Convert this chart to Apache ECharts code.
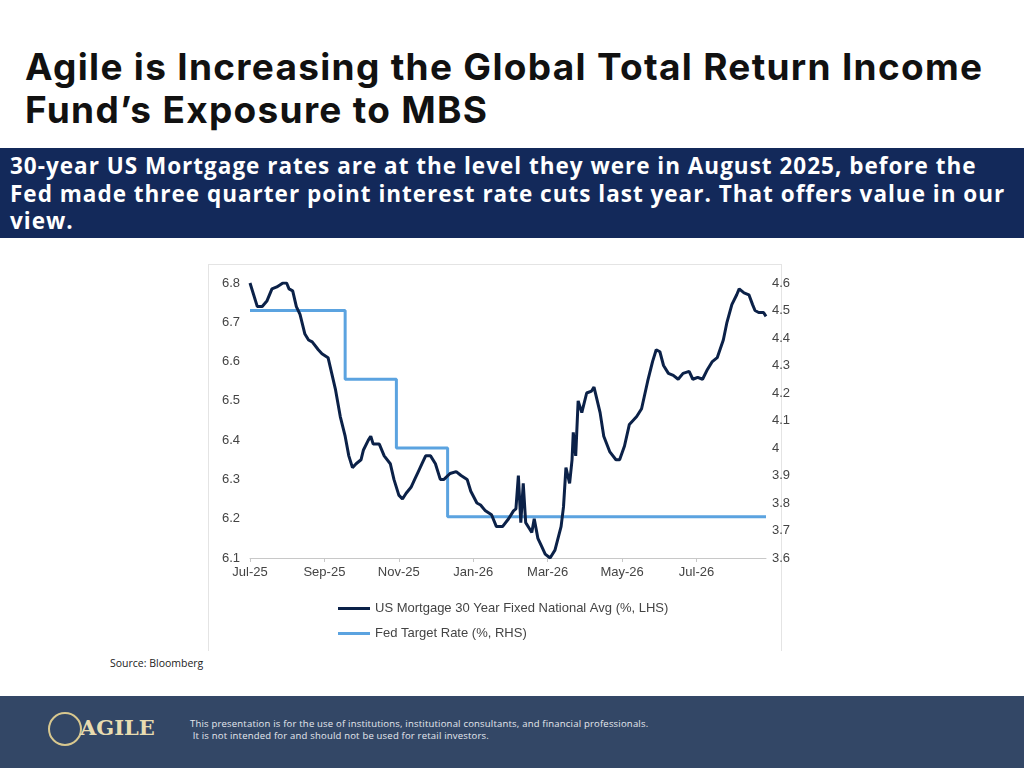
<!DOCTYPE html>
<html><head><meta charset="utf-8">
<script src="https://cdn.jsdelivr.net/npm/echarts@6/dist/echarts.min.js"></script>
<style>
body{margin:0;width:1024px;height:768px;position:relative;background:#fff;font-family:"Open Sans",sans-serif;overflow:hidden}
#title{position:absolute;left:25px;top:45px;font-size:37px;font-weight:700;line-height:43px;color:#111;font-family:Inter,"Open Sans",sans-serif;letter-spacing:1.3px;white-space:nowrap}
#banner{position:absolute;left:0;top:148px;width:1024px;height:90px;background:#13295a;color:#fff;font-weight:700;font-size:22.5px;line-height:27.5px;padding:4px 10px;box-sizing:border-box;letter-spacing:1.0px;white-space:nowrap}
#chartbox{position:absolute;left:208px;top:264px;width:572px;height:386px;border:1px solid #e4e4e4;border-bottom:none}
#chart{position:absolute;left:208px;top:262px;width:600px;height:390px}
#src{position:absolute;left:110px;top:656px;font-size:10.5px;color:#222}
#foot{position:absolute;left:0;top:696px;width:1024px;height:72px;background:#334766}
#logo{position:absolute;left:48px;top:712px;color:#e8dcb0;font-family:"DejaVu Serif",serif;font-weight:700;font-size:21px}
#logo span{display:inline-block;width:34px;height:34px;border:2px solid #d8c88f;border-radius:50%;vertical-align:middle;margin-right:-2px;box-sizing:border-box}
#disc{position:absolute;left:190px;top:718px;color:#e5e8ee;font-size:9.5px;line-height:12px;letter-spacing:0.2px}
</style></head><body>
<div id="title">Agile is Increasing the Global Total Return Income<br>Fund’s Exposure to MBS</div>
<div id="banner">30-year US Mortgage rates are at the level they were in August 2025, before the<br>Fed made three quarter point interest rate cuts last year. That offers value in our<br>view.</div>
<div id="chartbox"></div>
<div id="chart"></div>
<div id="src">Source: Bloomberg</div>
<div id="foot"></div>
<div id="logo"><span></span>AGILE</div>
<div id="disc">This presentation is for the use of institutions, institutional consultants, and financial professionals.<br>&nbsp;It is not intended for and should not be used for retail investors.</div>
<script>
// days since 1 Jul 2025
var mortDays = [0,6,10,14,18,22,27,30,32,35,38,41,45,48,51,56,59,64,67,70,74,78,81,84,87,91,93,97,99,101,106,110,115,118,122,125,128,132,135,138,141,144,148,152,156,159,164,169,173,178,181,186,189,193,198,202,207,212,216,218,220,222,224,226,229,231,233,236,239,242,246,250,255,257,259,262,264,265,267,269,272,276,280,282,287,290,295,300,303,307,311,317,321,326,330,333,336,339,343,347,351,355,360,363,367,371,375,379,383,388,391,395,399,401,405,409,412,414,417,421,423];
var mortRate = [6.80,6.74,6.74,6.755,6.785,6.79,6.80,6.80,6.785,6.78,6.74,6.72,6.67,6.655,6.65,6.63,6.62,6.61,6.57,6.53,6.46,6.41,6.36,6.33,6.34,6.35,6.375,6.40,6.41,6.39,6.39,6.36,6.34,6.30,6.26,6.25,6.265,6.28,6.30,6.32,6.34,6.36,6.36,6.34,6.30,6.30,6.315,6.32,6.31,6.30,6.27,6.24,6.235,6.22,6.21,6.18,6.18,6.20,6.22,6.225,6.31,6.19,6.29,6.19,6.175,6.165,6.20,6.15,6.13,6.11,6.10,6.12,6.18,6.23,6.33,6.29,6.35,6.42,6.36,6.50,6.47,6.52,6.525,6.535,6.47,6.41,6.37,6.35,6.35,6.385,6.44,6.46,6.48,6.55,6.60,6.63,6.625,6.59,6.57,6.565,6.555,6.57,6.575,6.555,6.56,6.555,6.58,6.60,6.61,6.655,6.70,6.745,6.77,6.785,6.775,6.77,6.745,6.73,6.725,6.725,6.715];
var fedDays = [0,78,120,162,423];
var fedRate = [4.50,4.25,4.00,3.75,3.75];
var xTickLabels = ['Jul-25','Sep-25','Nov-25','Jan-26','Mar-26','May-26','Jul-26'];
var leftTicks = [6.1,6.8];
var rightTicks = [3.6,4.6];

function pairs(a,b){return a.map(function(d,i){return [d,b[i]];});}
var txt = {color:'#444',fontSize:13,fontFamily:'Liberation Sans, Arial'};
var chart = echarts.init(document.getElementById('chart'));
chart.setOption({
  animation:false,
  grid:{left:42,right:42,top:21,bottom:94},
  legend:{orient:'vertical',left:125,top:335,itemWidth:32,itemHeight:3,itemGap:12,icon:'rect',
    textStyle:txt,data:['US Mortgage 30 Year Fixed National Avg (%, LHS)','Fed Target Rate (%, RHS)']},
  xAxis:{type:'value',min:0,max:423,interval:61,
    axisLine:{lineStyle:{color:'#c8c8c8'}},axisTick:{show:true,length:4,lineStyle:{color:'#c8c8c8'}},splitLine:{show:false},
    axisLabel:Object.assign({margin:8,showMaxLabel:false,formatter:function(v){return xTickLabels[Math.round(v/61)]||'';}},txt)},
  yAxis:[
    {type:'value',min:leftTicks[0],max:leftTicks[1],interval:0.1,axisLine:{show:false},axisTick:{show:false},splitLine:{show:false},
     axisLabel:Object.assign({margin:10,formatter:function(v){return v.toFixed(1);}},txt)},
    {type:'value',min:rightTicks[0],max:rightTicks[1],interval:0.1,axisLine:{show:false},axisTick:{show:false},splitLine:{show:false},
     axisLabel:Object.assign({margin:6,formatter:function(v){return (+v.toFixed(1)).toString();}},txt)}
  ],
  series:[
    {name:'Fed Target Rate (%, RHS)',type:'line',yAxisIndex:1,step:'end',showSymbol:false,
     lineStyle:{color:'#5ba3e0',width:3},itemStyle:{color:'#5ba3e0'},data:pairs(fedDays,fedRate)},
    {name:'US Mortgage 30 Year Fixed National Avg (%, LHS)',type:'line',yAxisIndex:0,showSymbol:false,
     lineStyle:{color:'#0b2148',width:3},itemStyle:{color:'#0b2148'},data:pairs(mortDays,mortRate)}
  ]
});
</script>
</body></html>
